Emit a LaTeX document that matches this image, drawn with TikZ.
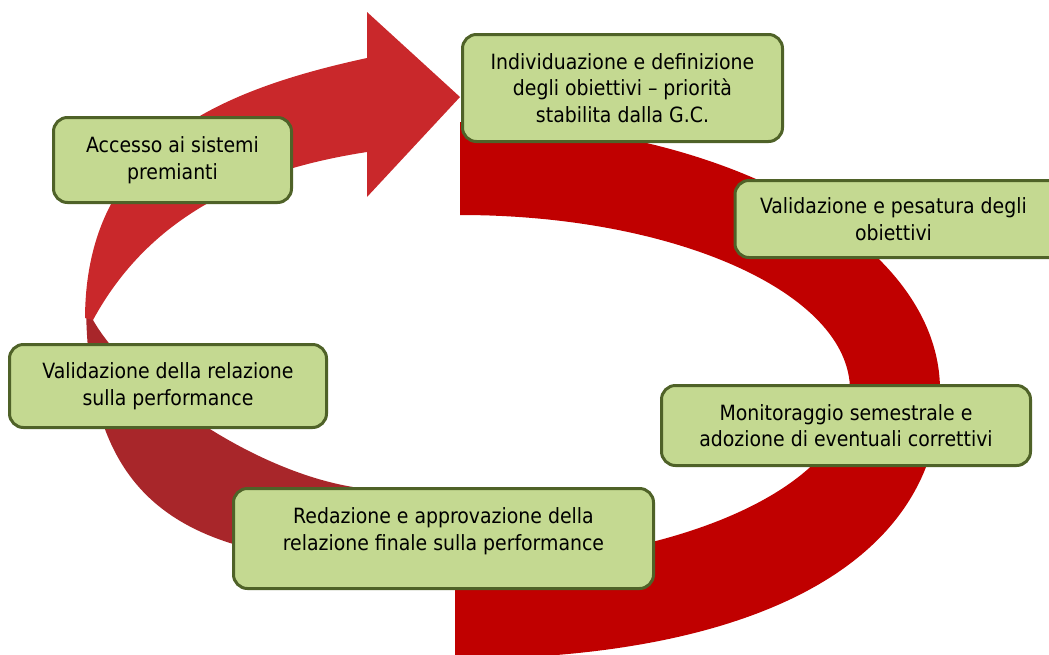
\documentclass[tikz,border=0pt]{standalone}
\usepackage{fontspec}
\newfontfamily\boxfont{DejaVu Sans Condensed}
\definecolor{mainred}{RGB}{192,0,0}
\definecolor{lightred}{RGB}{201,40,43}
\definecolor{lowred}{RGB}{168,38,42}
\definecolor{boxfill}{RGB}{196,217,145}
\definecolor{boxborder}{RGB}{79,98,40}
\tikzset{
  box/.style={draw=boxborder, fill=boxfill, line width=3pt, rounded corners=14pt,
    align=center, inner sep=0pt, font=\boxfont\fontsize{21pt}{26.5pt}\selectfont, text=black}
}
\begin{document}
\begin{tikzpicture}[x=1pt,y=-1pt]
\useasboundingbox (0,0) rectangle (1049,654);
\clip (0,0) rectangle (1049,654);
% lower-left dark band
\fill[lowred] (86,300) .. controls (86,440) and (130,515) .. (240,546) -- (420,578)
  -- (420,500) -- (353,487) .. controls (250,470) and (130,385) .. (93,320) -- cycle;
% upper light band with arrowhead
\fill[lightred] (367,58) .. controls (210,92) and (86,150) .. (85,318) -- (93,320)
  .. controls (150,215) and (250,170) .. (367,152)
  -- (367,197) -- (460,97) -- (367,12) -- cycle;
% main dark red band
\fill[mainred] (460,122) .. controls (725,122) and (940,242) .. (940,390)
  .. controls (940,560) and (760,659) .. (455,659) -- (455,565)
  .. controls (675,565) and (850,487) .. (850,390)
  .. controls (850,293) and (675,215) .. (460,215) -- cycle;
% boxes
\node[box, minimum width=320pt, minimum height=107pt] (b1) at (622.5,88)
  {Individuazione e definizione\\degli obiettivi – priorità\\stabilita dalla G.C.};
\node[box, minimum width=334pt, minimum height=77pt] (b2) at (902,219)
  {\hspace*{-17pt}Validazione e pesatura degli\\\hspace*{-17pt}obiettivi};
\node[box, minimum width=238pt, minimum height=85pt] (b3) at (172.5,160)
  {Accesso ai sistemi\\premianti};
\node[box, minimum width=317pt, minimum height=83pt] (b4) at (168,386)
  {Validazione della relazione\\sulla performance};
\node[box, minimum width=420pt, minimum height=100pt, text depth=19pt] (b5) at (443.5,538.5)
  {Redazione e approvazione della\\relazione finale sulla performance};
\node[box, minimum width=369pt, minimum height=80pt] (b6) at (846,425.5)
  {Monitoraggio semestrale e\\adozione di eventuali correttivi};
\end{tikzpicture}
\end{document}
